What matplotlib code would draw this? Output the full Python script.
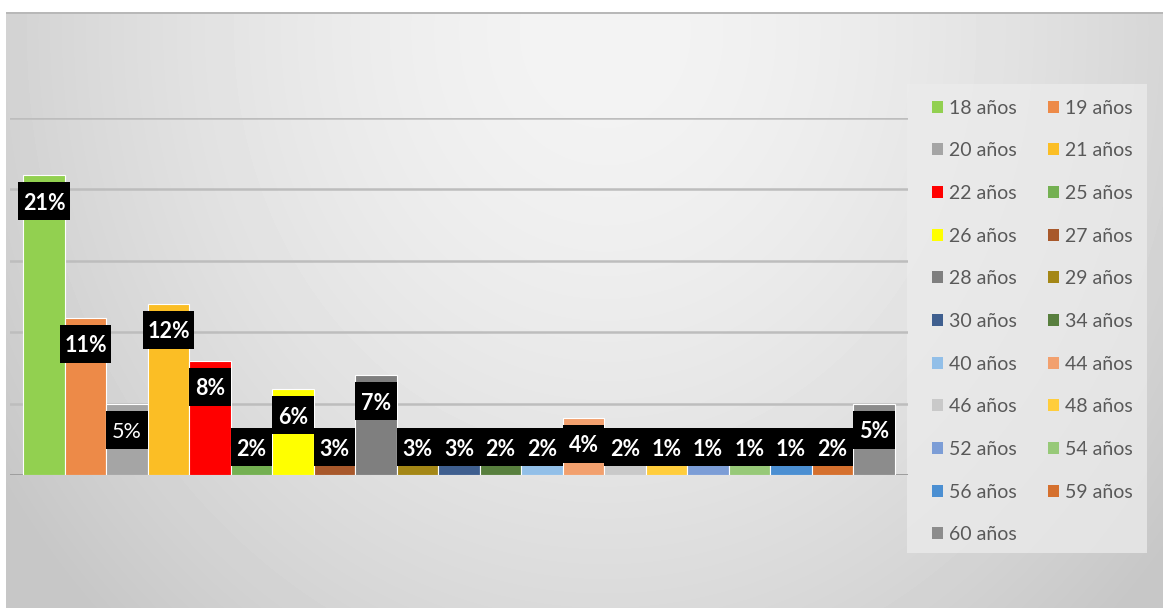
# distribucion de edades - barras con etiquetas en recuadro negro
import numpy as np
import matplotlib
matplotlib.use('Agg')
import matplotlib.pyplot as plt
from matplotlib.patches import Patch, Rectangle

# datos
edades = ['18 años', '19 años', '20 años', '21 años', '22 años', '25 años',
          '26 años', '27 años', '28 años', '29 años', '30 años', '34 años',
          '40 años', '44 años', '46 años', '48 años', '52 años', '54 años',
          '56 años', '59 años', '60 años']
porcentajes = [21, 11, 5, 12, 8, 2, 6, 3, 7, 3, 3, 2, 2, 4, 2, 1, 1, 1, 1, 2, 5]
colores = ['#92D050', '#ED8A48', '#A5A5A5', '#FBBE25', '#FF0000', '#74B052',
           '#FFFF00', '#A8582B', '#7F7F7F', '#A48716', '#3F5F8F', '#587F3E',
           '#92BFE8', '#F2A06E', '#C9C9C9', '#FFCD3C', '#7C9DD6', '#97C978',
           '#4B8FD2', '#D5702E', '#8C8C8C']

W, H = 1163, 608
fig = plt.figure(figsize=(W / 100, H / 100), dpi=100)

# fondo degradado
bg = fig.add_axes([0, 0, 1, 1], zorder=-2)
yy, xx = np.mgrid[0:H, 0:W]
d = np.sqrt(((xx - 0.52 * W) / (0.62 * W)) ** 2 + ((yy - 0.05 * H) / (1.35 * H)) ** 2)
d = np.clip(d, 0, 1) ** 1.6
claro, oscuro = 0.955, 0.78
img = claro + (oscuro - claro) * d
img[:12, :] = 1.0
img[:, :6] = 1.0
img[12:14, 6:] = 0.72
bg.imshow(img, cmap='gray', vmin=0, vmax=1, extent=(0, W, H, 0), aspect='auto')
bg.set_xlim(0, W)
bg.set_ylim(H, 0)
bg.axis('off')

# grafico de barras
ax = fig.add_axes([10 / W, (H - 475) / H, 898 / W, (475 - 118) / H])
ax.set_facecolor('none')
x = np.arange(len(porcentajes))
ax.bar(x, porcentajes, width=1, color=colores, edgecolor='white', linewidth=0.8, zorder=2)

ax.set_xlim(-0.82, len(porcentajes) - 1 + 0.82)
ax.set_ylim(0, 25)
ax.set_yticks(range(0, 26, 5))
ax.yaxis.grid(True, color='#bdbdbd', linewidth=1.8)
ax.set_axisbelow(True)
ax.axhline(0, color='#9a9a9a', linewidth=2, zorder=1)
ax.tick_params(left=False, bottom=False, labelleft=False, labelbottom=False)
for s in ax.spines.values():
    s.set_visible(False)

# etiquetas de datos en recuadro negro
alto = 2.66
for i, v in enumerate(porcentajes):
    etiqueta = f'{v}%'
    centro = max(v - 1.82, 1.96)
    ancho = 0.99 + 0.26 * (len(etiqueta) - 2)
    ax.bar(i, alto, bottom=centro - alto / 2, width=ancho, color='black', zorder=3)
    peso = 'normal' if i == 2 else 'bold'
    ax.text(i, centro, etiqueta, ha='center', va='center_baseline', color='white',
            fontsize=15.5, fontweight=peso, family='Lato', zorder=4)

# leyenda en dos columnas, orden por filas
handles = [Patch(facecolor=c) for c in colores]
orden = list(range(0, len(edades), 2)) + list(range(1, len(edades), 2))
fig.patches.append(Rectangle((907 / W, (H - 553) / H), 240 / W, 469 / H,
                             transform=fig.transFigure, facecolor='#ececec',
                             alpha=0.75, edgecolor='none', zorder=-1))
leg = fig.legend([handles[k] for k in orden], [edades[k] for k in orden],
                 ncol=2, loc='upper left', bbox_to_anchor=(918 / W, (H - 86) / H),
                 frameon=False, prop={'family': 'Lato', 'size': 14},
                 labelcolor='#595959', handlelength=0.58, handleheight=0.58,
                 handletextpad=0.3, columnspacing=1.6, labelspacing=1.32,
                 borderpad=0.2)

fig.savefig('out.png', dpi=100)
